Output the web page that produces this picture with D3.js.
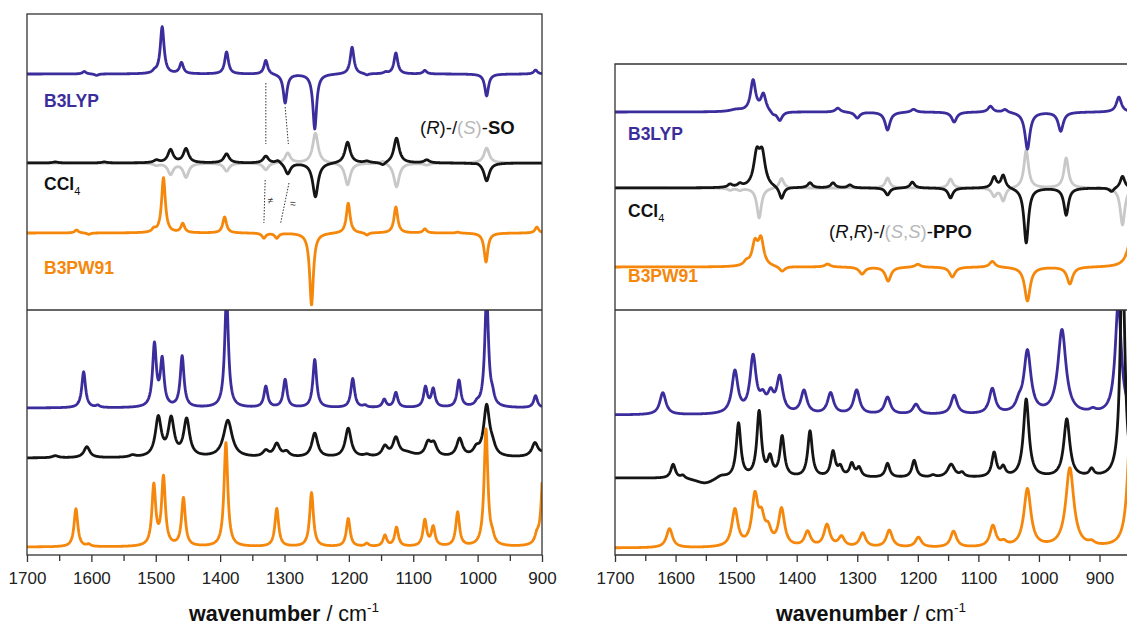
<!DOCTYPE html>
<html>
<head>
<meta charset="utf-8">
<script src="https://cdn.jsdelivr.net/npm/d3@7"></script>
<style>
  body { margin: 0; background: #fff; }
  text { font-family: "Liberation Sans", Arial, sans-serif; }
</style>
</head>
<body>
<div id="chart"></div>
<script>
// peak lists: [wavenumber / cm-1, intensity (a.u.), optional half width]
// --- (R)-/(S)-SO, VCD
var soB3lypVcd = [[1611,2.5],[1592,-1.5],[1502,2],[1490,47],[1460,11],[1390,22],[1329,14],[1299,-29],[1253,-55],[1195,27],[1172,-1.5],[1143,1.5],[1127,21],[1082,3.5],[986,-22],[910,4]];
var soCcl4Vcd = [[1656,1],[1580,1],[1499,2.5],[1477,13],[1453,14],[1390,9],[1329,7],[1310,3],[1295,-11],[1252,-34],[1202,21],[1172,1.5],[1147,-3],[1126,25],[1079,3],[1000,1],[986,-18]];
var soCcl4MirrorVcd = [[1499,-2],[1477,-11],[1453,-14],[1390,-8],[1329,-7],[1295,10],[1252,30],[1202,-22],[1147,3],[1126,-24],[1079,-2],[986,15]];
var soB3pw91Vcd = [[1623,3],[1604,-1.5],[1503,3],[1488,55],[1458,9],[1393,16],[1332,-5],[1312,-5],[1258,-72],[1201,30],[1172,-2.5],[1127,26],[1082,4],[1031,1],[987,-29],[908,6]];
// --- SO, IR
var soB3lypIr = [[1612,36],[1590,2],[1502,62],[1490,46],[1459,51],[1390,112],[1329,21],[1299,28],[1253,48],[1194,29],[1175,2],[1145,8],[1127,15],[1081,20],[1069,18],[1029,27],[1001,3],[986,112],[977,8],[910,12]];
var soCcl4Ir = [[1656,2],[1607,11],[1536,2],[1496,39],[1476,37],[1452,37],[1388,37,8],[1329,6],[1312,13],[1297,5],[1253,24],[1201,29],[1172,2],[1144,10],[1127,18],[1110,4,14],[1077,13],[1068,12],[1028,18],[1002,7],[986,50],[977,8],[911,13],[890,6,15]];
var soB3pw91Ir = [[1624,38],[1604,2],[1503,60],[1488,68],[1457,48],[1391,104],[1312,38],[1258,54],[1201,28],[1172,3],[1144,11],[1126,19],[1082,26],[1069,19],[1031,34],[987,117],[977,6],[908,7],[897,110]];
// --- (R,R)-/(S,S)-PPO, VCD
var ppoB3lypVcd = [[1500,2,12],[1472,31],[1455,17],[1439,-3],[1428,-9],[1332,4],[1300,-6],[1250,-18],[1207,3],[1140,-10],[1080,6],[1056,3],[1019,-37],[964,-19],[868,15]];
var ppoCcl4Vcd = [[1510,3],[1494,3],[1466,31,6],[1457,31,6],[1425,-12],[1378,5],[1340,5],[1312,3],[1250,-7],[1209,6],[1146,-10],[1074,11],[1059,13],[1021,-55],[955,-27],[880,-4],[862,12]];
var ppoCcl4MirrorVcd = [[1510,-2],[1494,-2],[1462,-30],[1425,10],[1250,10],[1146,9],[1074,-8],[1059,-13],[1021,38],[955,30],[862,-37]];
var ppoB3pw91Vcd = [[1483,4],[1469,22],[1459,26],[1424,-5],[1349,3],[1292,-7],[1249,-14],[1200,3],[1143,-10],[1077,6],[1019,-34],[949,-17],[847,30,8]];
// --- PPO, IR
var ppoB3lypIr = [[1621,22],[1502,42],[1472,56],[1456,13],[1443,17],[1428,35],[1388,23],[1344,21],[1301,24],[1250,17],[1203,10],[1140,19],[1077,25],[1033,8],[1019,62,7],[962,84,8],[911,3],[869,112]];
var ppoCcl4Ir = [[1604,14],[1588,3],[1551,-6,20],[1525,3,10],[1496,54],[1462,65],[1444,18],[1424,40],[1378,46],[1340,25],[1328,9],[1309,13],[1297,9],[1250,14],[1206,17],[1175,2],[1145,13,7],[1127,4],[1074,24],[1059,9],[1021,78,5.5],[954,58,6],[913,7],[862,230]];
var ppoB3pw91Ir = [[1610,19],[1502,37],[1469,48],[1458,24],[1447,14],[1425,37],[1382,15],[1350,22],[1326,10],[1291,14],[1247,17],[1199,10],[1141,16],[1076,21],[1058,4],[1019,58,7],[949,79,8],[913,3],[848,140]];

var majorTicks = [1700,1600,1500,1400,1300,1200,1100,1000,900];
var minorTicks = [1650,1550,1450,1350,1250,1150,1050,950,850];

// dotted guides in the SO VCD panel: [wn, a.u.] pairs
var guideLines = [[[1329,227],[1329,166]],[[1299,203],[1294,166]],[[1330,130],[1332,87]],[[1293,127],[1306,87]]];

var col = { b3lyp: '#3b2d9c', ccl4: '#151515', mirror: '#c8c8c8', b3pw91: '#f5870b' };

var W = 1127, H = 625;
var svg = d3.select('#chart').append('svg').attr('width', W).attr('height', H);
var defs = svg.append('defs');

function spectrum(peaks, hw, from, to) {
  var pts = [];
  for (var w = from; w >= to; w -= 0.5) {
    var v = 0;
    peaks.forEach(function(p) {
      var g = p[2] || hw, d = w - p[0];
      v += p[1] * g * g / (d * d + g * g);
    });
    pts.push([w, v]);
  }
  return pts;
}

var clipN = 0;
function section(x, x0, x1, top, bottom, series, dom) {
  var id = 'clip' + (clipN++);
  defs.append('clipPath').attr('id', id).append('rect')
    .attr('x', x0).attr('y', top).attr('width', x1 - x0).attr('height', bottom - top);
  var y = d3.scaleLinear().domain([0, bottom - top]).range([bottom, top]);
  var g = svg.append('g').attr('clip-path', 'url(#' + id + ')');
  series.forEach(function(s) {
    var pts = spectrum(s.peaks, s.hw, dom[0], dom[1]);
    g.append('path').datum(pts)
      .attr('d', d3.line().x(function(d){ return x(d[0]); }).y(function(d){ return y(d[1] + s.off); }))
      .attr('fill', 'none').attr('stroke', s.color).attr('stroke-width', 2.8)
      .attr('stroke-linejoin', 'round');
  });
  return y;
}

function labels(x0, ys) {
  var t = svg.append('g').attr('font-weight', 'bold').attr('font-size', 17.5);
  t.append('text').attr('x', x0).attr('y', ys[0]).attr('fill', col.b3lyp).text('B3LYP');
  var c = t.append('text').attr('x', x0).attr('y', ys[1]).attr('fill', '#111');
  c.append('tspan').text('CCl');
  c.append('tspan').attr('font-size', 11).attr('font-weight', 'normal').attr('dy', 5).text('4');
  t.append('text').attr('x', x0).attr('y', ys[2]).attr('fill', col.b3pw91).text('B3PW91');
}

function bottomAxis(x, y0, xmax) {
  var ax = svg.append('g').attr('transform', 'translate(0,' + y0 + ')')
    .call(d3.axisBottom(x).tickValues(majorTicks).tickSize(7).tickPadding(10).tickFormat(d3.format('d')));
  ax.select('.domain').remove();
  ax.selectAll('line').attr('stroke', '#333').attr('stroke-width', 1.3);
  ax.selectAll('text').attr('font-size', 17).attr('fill', '#222')
    .style('font-family', '"Liberation Sans", Arial, sans-serif');
  var mi = svg.append('g').attr('transform', 'translate(0,' + y0 + ')')
    .call(d3.axisBottom(x).tickValues(minorTicks.filter(function(v){ return x(v) <= xmax; })).tickSize(6).tickFormat(''));
  mi.select('.domain').remove();
  mi.selectAll('line').attr('stroke', '#333').attr('stroke-width', 1.3);
}

function axisTitle(cx) {
  var t = svg.append('text').attr('x', cx).attr('y', 621).attr('text-anchor', 'middle')
    .attr('font-size', 21.5).attr('fill', '#111');
  t.append('tspan').attr('font-weight', 'bold').text('wavenumber');
  t.append('tspan').text(' / cm');
  t.append('tspan').attr('font-size', 13.5).attr('dy', -9).text('-1');
}

function enantiomerLabel(x0, y0, rPart, sPart, name) {
  var t = svg.append('text').attr('x', x0).attr('y', y0).attr('font-size', 18.5).attr('fill', '#111');
  function part(p, fill) {
    t.append('tspan').attr('fill', fill).text('(');
    p.forEach(function(c, i) {
      if (i) t.append('tspan').attr('fill', fill).text(',');
      t.append('tspan').attr('fill', fill).attr('font-style', 'italic').text(c);
    });
    t.append('tspan').attr('fill', fill).text(')');
  }
  part(rPart, '#111');
  t.append('tspan').text('-/');
  part(sPart, '#b8b8b8');
  t.append('tspan').text('-');
  t.append('tspan').attr('font-weight', 'bold').text(name);
}

// ---------- left panel: SO ----------
var xL = d3.scaleLinear().domain([1700, 900]).range([27, 542]);
var yLT = section(xL, 27, 542, 14, 310, [
  { peaks: soCcl4MirrorVcd, hw: 5, off: 147, color: col.mirror },
  { peaks: soB3lypVcd, hw: 3.5, off: 236, color: col.b3lyp },
  { peaks: soCcl4Vcd, hw: 5, off: 147, color: col.ccl4 },
  { peaks: soB3pw91Vcd, hw: 3.5, off: 77, color: col.b3pw91 }
], [1700, 900]);
section(xL, 27, 542, 310, 555, [
  { peaks: soB3lypIr, hw: 3.5, off: 147, color: col.b3lyp },
  { peaks: soCcl4Ir, hw: 5.5, off: 97, color: col.ccl4 },
  { peaks: soB3pw91Ir, hw: 3.5, off: 8, color: col.b3pw91 }
], [1700, 900]);

guideLines.forEach(function(l) {
  svg.append('line')
    .attr('x1', xL(l[0][0])).attr('y1', yLT(l[0][1]))
    .attr('x2', xL(l[1][0])).attr('y2', yLT(l[1][1]))
    .attr('stroke', '#333').attr('stroke-width', 1).attr('stroke-dasharray', '1.5,1.5');
});
svg.append('text').attr('x', xL(1326)).attr('y', yLT(106)).attr('font-size', 10).attr('fill', '#333').text('\u2260');
svg.append('text').attr('x', xL(1291)).attr('y', yLT(103)).attr('font-size', 10).attr('fill', '#333').text('\u2248');

svg.append('rect').attr('x', 27).attr('y', 14).attr('width', 515).attr('height', 541)
  .attr('fill', 'none').attr('stroke', '#333').attr('stroke-width', 1.3);
svg.append('line').attr('x1', 27).attr('x2', 542).attr('y1', 310).attr('y2', 310)
  .attr('stroke', '#333').attr('stroke-width', 1.3);

labels(44, [107, 190, 274]);
enantiomerLabel(420, 134, ['R'], ['S'], 'SO');

bottomAxis(xL, 555, 543);
axisTitle(284);

// ---------- right panel: PPO ----------
var xR = d3.scaleLinear().domain([1700, 900]).range([615, 1099.5]);
section(xR, 615, W, 64, 310, [
  { peaks: ppoCcl4MirrorVcd, hw: 4.5, off: 122, color: col.mirror },
  { peaks: ppoB3lypVcd, hw: 5, off: 198, color: col.b3lyp },
  { peaks: ppoCcl4Vcd, hw: 4.5, off: 122, color: col.ccl4 },
  { peaks: ppoB3pw91Vcd, hw: 5.5, off: 43, color: col.b3pw91 }
], [1700, 830]);
section(xR, 615, W, 310, 555, [
  { peaks: ppoB3lypIr, hw: 6, off: 140, color: col.b3lyp },
  { peaks: ppoCcl4Ir, hw: 4.5, off: 77, color: col.ccl4 },
  { peaks: ppoB3pw91Ir, hw: 6, off: 7, color: col.b3pw91 }
], [1700, 830]);

svg.append('path').attr('d', 'M1140,64H615V555H1140M615,310H1140')
  .attr('fill', 'none').attr('stroke', '#333').attr('stroke-width', 1.3);

labels(628, [140, 217, 282]);
enantiomerLabel(829, 238, ['R', 'R'], ['S', 'S'], 'PPO');

bottomAxis(xR, 555, W);
axisTitle(871);
</script>
</body>
</html>
